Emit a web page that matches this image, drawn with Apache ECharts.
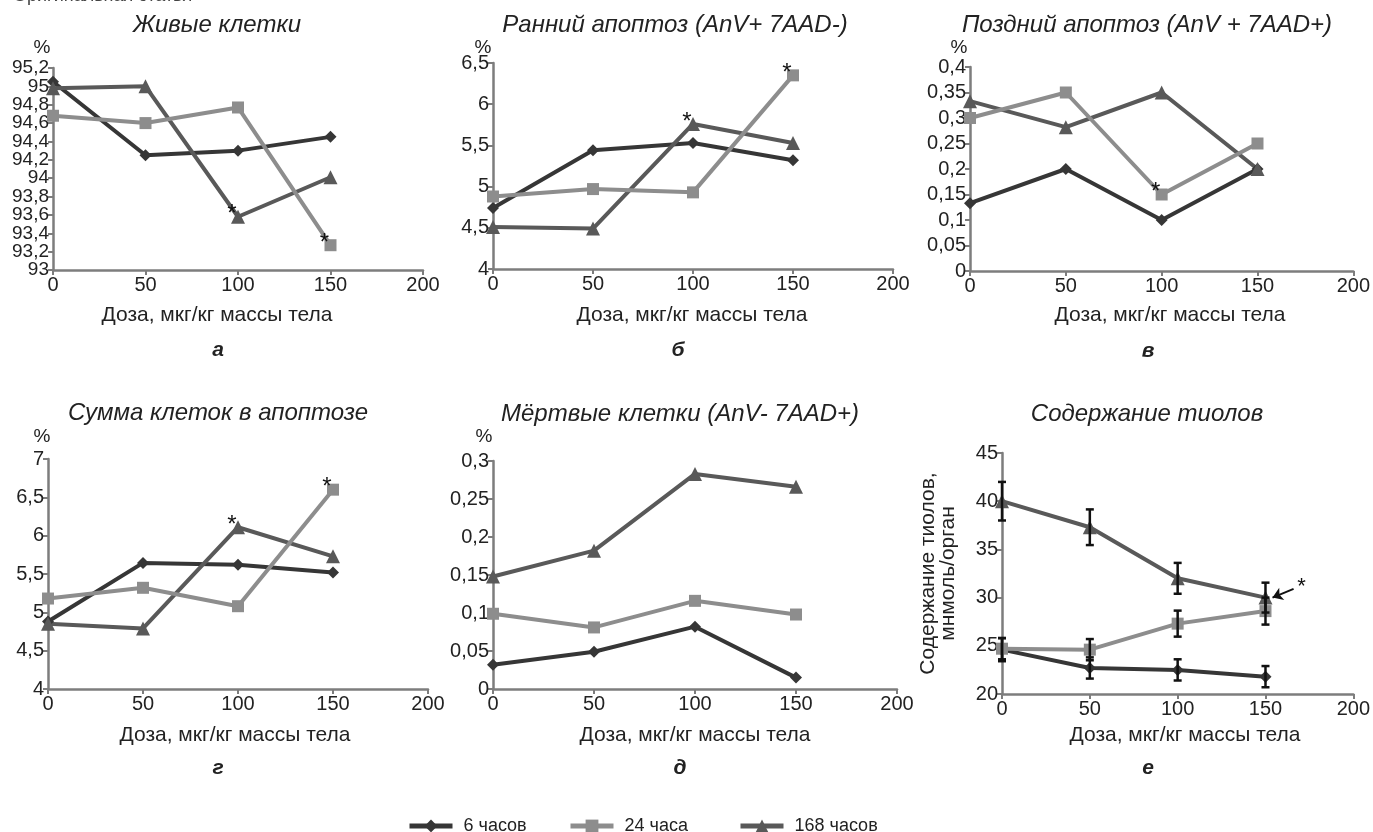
<!DOCTYPE html>
<html>
<head>
<meta charset="utf-8">
<script src="https://cdn.jsdelivr.net/npm/echarts@6/dist/echarts.min.js"></script>
<style>
  html, body { margin: 0; padding: 0; background: #fff; }
  #chart { width: 1373px; height: 832px; }
</style>
</head>
<body>
<div id="chart"></div>
<script>
// дозы, мкг/кг
const doses = [0, 50, 100, 150];
const seriesNames = ['6 часов', '24 часа', '168 часов'];

// а — живые клетки
const live6 = [95.05, 94.25, 94.3, 94.45];
const live24 = [94.68, 94.6, 94.77, 93.27];
const live168 = [94.98, 95.0, 93.58, 94.01];
// б — ранний апоптоз
const early6 = [4.74, 5.44, 5.53, 5.32];
const early24 = [4.88, 4.97, 4.93, 6.35];
const early168 = [4.51, 4.49, 5.76, 5.53];
// в — поздний апоптоз
const late6 = [0.133, 0.2, 0.1, 0.2];
const late24 = [0.3, 0.35, 0.15, 0.25];
const late168 = [0.333, 0.282, 0.35, 0.2];
// г — сумма клеток в апоптозе
const sum6 = [4.88, 5.645, 5.62, 5.52];
const sum24 = [5.18, 5.32, 5.08, 6.6];
const sum168 = [4.85, 4.79, 6.11, 5.73];
// д — мёртвые клетки
const dead6 = [0.032, 0.049, 0.082, 0.015];
const dead24 = [0.099, 0.081, 0.116, 0.098];
const dead168 = [0.148, 0.182, 0.283, 0.266];
// е — содержание тиолов и ошибки
const thiol6 = [24.6, 22.7, 22.5, 21.8];
const thiol24 = [24.7, 24.6, 27.3, 28.6];
const thiol168 = [40.0, 37.3, 32.0, 30.0];
const thiolErr6 = [1.2, 1.1, 1.1, 1.1];
const thiolErr24 = [1.1, 1.1, 1.35, 1.4];
const thiolErr168 = [2.0, 1.85, 1.6, 1.55];

// звёздочки: [индекс панели, индекс серии, индекс дозы]
const stars = [[0, 2, 2], [0, 1, 3], [1, 2, 2], [1, 1, 3], [2, 1, 2], [3, 2, 2], [3, 1, 3]];

// оси Y: [min, max, interval]
const yRanges = [[93, 95.2, 0.2], [4, 6.5, 0.5], [0, 0.4, 0.05], [4, 7, 0.5], [0, 0.3, 0.05], [20, 45, 5]];
const titles = ['Живые клетки', 'Ранний апоптоз (AnV+ 7AAD-)', 'Поздний апоптоз (AnV + 7AAD+)',
  'Сумма клеток в апоптозе', 'Мёртвые клетки (AnV- 7AAD+)', 'Содержание тиолов'];
const letters = ['а', 'б', 'в', 'г', 'д', 'е'];

const panels = [
  [live6, live24, live168],
  [early6, early24, early168],
  [late6, late24, late168],
  [sum6, sum24, sum168],
  [dead6, dead24, dead168],
  [thiol6, thiol24, thiol168]
];

const colors = ['#363636', '#8d8d8d', '#595959'];
const symbols = ['diamond', 'rect', 'triangle'];
const symbolSizes = [12, 12, 14];

// расположение панелей
const grids = [
  { left: 53, top: 68, width: 370, height: 202 },
  { left: 493, top: 63, width: 400, height: 206 },
  { left: 970, top: 67, width: 398, height: 204 },
  { left: 48, top: 459, width: 380, height: 230 },
  { left: 493, top: 461, width: 404, height: 228 },
  { left: 1002, top: 453, width: 366, height: 241 }
];
const titlePos = [[217, 25], [675, 25], [1147, 25], [218, 413], [680, 414], [1147, 414]];
const percentPos = [[42, 48], [483, 48], [959, 48], [42, 437], [484, 437]];
const xNamePos = [[217, 315], [692, 315], [1170, 315], [235, 735], [695, 735], [1185, 735]];
const letterPos = [[218, 350], [678, 350], [1148, 351], [218, 768], [680, 768], [1148, 768]];

const axisColor = '#7d7d7d';
const fontFam = '"Liberation Sans", Arial, sans-serif';

function fmt(v) {
  return String(parseFloat(v.toFixed(3))).replace('.', ',');
}
// на панели а подписи частые: делим их между двумя осями, чтобы ни одна не скрылась
function fmtParity(parity) {
  return function (v) {
    const k = Math.round((v - yRanges[0][0]) / yRanges[0][2]);
    return k % 2 === parity ? fmt(v) : '';
  };
}

const xAxes = grids.map((g, i) => ({
  gridIndex: i, type: 'value', min: 0, max: 200, interval: 50,
  axisLine: { show: true, lineStyle: { color: axisColor, width: 2.5 } },
  axisTick: { show: true, length: 5, lineStyle: { color: axisColor, width: 2 } },
  splitLine: { show: false },
  axisLabel: { color: '#222', fontSize: 20, fontFamily: fontFam, margin: 5,
    showMinLabel: true, showMaxLabel: true }
}));

const yAxes = yRanges.map((r, i) => ({
  gridIndex: i, type: 'value', min: r[0], max: r[1], interval: r[2], position: 'left',
  axisLine: { show: true, lineStyle: { color: axisColor, width: 2.5 } },
  axisTick: { show: true, length: 5, lineStyle: { color: axisColor, width: 2 } },
  splitLine: { show: false },
  axisLabel: { color: '#222', fontSize: i === 0 ? 19 : 20,
    fontFamily: fontFam, margin: 4, formatter: i === 0 ? fmtParity(0) : fmt,
    showMinLabel: true, showMaxLabel: true },
  name: i === 5 ? 'Содержание тиолов,\nмнмоль/орган' : '',
  nameLocation: 'middle', nameRotate: 90, nameGap: 44,
  nameTextStyle: { color: '#222', fontSize: 21, fontFamily: fontFam, lineHeight: 20 }
}));
// вторая ось панели а — только нечётные подписи
yAxes.push({
  gridIndex: 0, type: 'value', min: yRanges[0][0], max: yRanges[0][1], interval: yRanges[0][2],
  position: 'left', axisLine: { show: false }, axisTick: { show: false }, splitLine: { show: false },
  axisLabel: { color: '#222', fontSize: 19, fontFamily: fontFam, margin: 4, formatter: fmtParity(1),
    showMinLabel: true, showMaxLabel: true }
});

const series = [];
panels.forEach((vals, p) => {
  vals.forEach((arr, s) => {
    series.push({
      name: seriesNames[s], type: 'line', xAxisIndex: p, yAxisIndex: p,
      symbol: symbols[s], symbolSize: symbolSizes[s], showSymbol: true,
      lineStyle: { color: colors[s], width: 4 },
      itemStyle: { color: colors[s] },
      z: s === 1 ? 3 : 2,
      data: arr.map((v, k) => {
        const star = stars.some(t => t[0] === p && t[1] === s && t[2] === k);
        const item = { value: [doses[k], v] };
        if (star) {
          item.label = { show: true, formatter: '*', position: 'inside', offset: [-6, -2],
            fontSize: 24, color: '#111', fontFamily: fontFam };
        }
        return item;
      })
    });
  });
});

// планки погрешностей для панели е
const errSets = [[thiol6, thiolErr6], [thiol24, thiolErr24], [thiol168, thiolErr168]];
errSets.forEach(([vals, errs]) => {
  series.push({
    type: 'custom', xAxisIndex: 5, yAxisIndex: 5, z: 5, silent: true,
    data: vals.map((v, k) => [doses[k], v, errs[k]]),
    renderItem: function (params, api) {
      const x = api.value(0), y = api.value(1), e = api.value(2);
      const hi = api.coord([x, y + e]);
      const lo = api.coord([x, y - e]);
      const st = { stroke: '#111', lineWidth: 2.5 };
      return {
        type: 'group',
        children: [
          { type: 'line', shape: { x1: hi[0], y1: hi[1], x2: lo[0], y2: lo[1] }, style: st },
          { type: 'line', shape: { x1: hi[0] - 4, y1: hi[1], x2: hi[0] + 4, y2: hi[1] }, style: st },
          { type: 'line', shape: { x1: lo[0] - 4, y1: lo[1], x2: lo[0] + 4, y2: lo[1] }, style: st }
        ]
      };
    }
  });
});

// стрелка со звёздочкой на панели е
series.push({
  type: 'line', xAxisIndex: 5, yAxisIndex: 5, data: [], silent: true,
  markLine: {
    silent: true, animation: false,
    symbol: ['none', 'arrow'], symbolSize: 10,
    lineStyle: { color: '#111', width: 2, type: 'solid' },
    label: { show: true, position: 'start', formatter: '*', fontSize: 22, color: '#111',
      distance: 4, fontFamily: fontFam },
    data: [[{ coord: [166, 30.9] }, { coord: [154, 30.0] }]]
  }
});

const graphic = [];
titles.forEach((t, i) => {
  graphic.push({ type: 'text', x: titlePos[i][0], y: titlePos[i][1],
    style: { text: t, font: 'italic 24px ' + fontFam, fill: '#222', textAlign: 'center', textVerticalAlign: 'middle' } });
  graphic.push({ type: 'text', x: xNamePos[i][0], y: xNamePos[i][1],
    style: { text: 'Доза, мкг/кг массы тела', font: '21px ' + fontFam, fill: '#222', textAlign: 'center', textVerticalAlign: 'middle' } });
  graphic.push({ type: 'text', x: letterPos[i][0], y: letterPos[i][1],
    style: { text: letters[i], font: 'italic bold 21px ' + fontFam, fill: '#222', textAlign: 'center', textVerticalAlign: 'middle' } });
});
percentPos.forEach(p => {
  graphic.push({ type: 'text', x: p[0], y: p[1],
    style: { text: '%', font: '19px ' + fontFam, fill: '#222', textAlign: 'center', textVerticalAlign: 'middle' } });
});
graphic.push({ type: 'text', x: 13, y: 5,
  style: { text: 'Оригинальная статья', font: '18px ' + fontFam, fill: '#444', textAlign: 'left', textVerticalAlign: 'bottom' } });

const legendLefts = [402, 563, 733];
const legends = seriesNames.map((n, i) => ({
  data: [n], left: legendLefts[i], top: 812, itemWidth: 43, itemHeight: 16, itemGap: 10,
  lineStyle: { width: 5 },
  textStyle: { color: '#222', fontSize: 18, fontFamily: fontFam, padding: [0, 0, 0, 6] },
  selectedMode: false
}));

const chart = echarts.init(document.getElementById('chart'));
chart.setOption({
  animation: false,
  backgroundColor: '#fff',
  grid: grids,
  xAxis: xAxes,
  yAxis: yAxes,
  legend: legends,
  graphic: graphic,
  series: series
});
</script>
</body>
</html>
